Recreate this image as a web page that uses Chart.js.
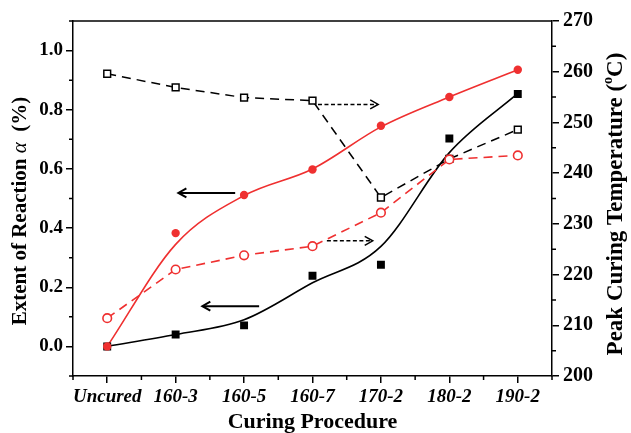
<!DOCTYPE html>
<html>
<head>
<meta charset="utf-8">
<script src="https://cdn.jsdelivr.net/npm/chart.js@4.4.1/dist/chart.umd.min.js"></script>
<style>
  html, body { margin: 0; padding: 0; background: #fff; }
  #wrap { width: 631px; height: 433px; position: relative; }
</style>
</head>
<body>
<div id="wrap"><canvas id="cure"></canvas></div>
<script>
// Curing procedures on the x axis
const categories = ['Uncured', '160-3', '160-5', '160-7', '170-2', '180-2', '190-2'];

// Extent of reaction (left axis): measured points and the fitted curves
const alphaBlack = [0, 0.040, 0.071, 0.239, 0.276, 0.703, 0.853];
const alphaBlackFit = [0, 0.040, 0.090, 0.215, 0.338, 0.655, 0.855];
const alphaRed = [0, 0.383, 0.512, 0.598, 0.746, 0.843, 0.935];
const alphaRedFit = [0, 0.345, 0.510, 0.600, 0.742, 0.843, 0.935];

// Peak curing temperature, °C (right axis)
const peakBlack = [259.6, 256.9, 254.9, 254.3, 235.2, 242.8, 248.6];
const peakRed = [211.4, 221.0, 223.8, 225.6, 232.2, 242.7, 243.5];

// Tick values
const leftTicks = [0, 0.2, 0.4, 0.6, 0.8, 1.0];
const leftMinor = [-0.1, 0.1, 0.3, 0.5, 0.7, 0.9, 1.1];
const rightTicks = [200, 210, 220, 230, 240, 250, 260, 270];
const rightMinor = [205, 215, 225, 235, 245, 255, 265];

// Arrows pointing each series to its axis: x in category index, y in left-axis units
const arrows = [
  { x0: 1.87, x1: 1.04, y: 0.519, dashed: false },
  { x0: 2.22, x1: 1.39, y: 0.136, dashed: false },
  { x0: 3.08, x1: 3.96, y: 0.818, dashed: true },
  { x0: 3.21, x1: 3.88, y: 0.357, dashed: true }
];

const RED = '#ef3030';
const SERIF = '"Liberation Serif", "Times New Roman", serif';

// minor ticks, top frame line, arrows and axis titles
const extrasPlugin = {
  id: 'extras',
  afterDraw(chart) {
    const { ctx, chartArea: a, scales } = chart;
    const x = scales.x, yL = scales.yL, yR = scales.yR;
    ctx.save();
    ctx.strokeStyle = '#000';
    ctx.lineWidth = 1.5;

    // top frame
    ctx.beginPath();
    ctx.moveTo(a.left, a.top);
    ctx.lineTo(a.right, a.top);
    ctx.stroke();

    // minor ticks
    ctx.beginPath();
    leftMinor.forEach(v => {
      const py = yL.getPixelForValue(v);
      ctx.moveTo(a.left, py); ctx.lineTo(a.left - 4, py);
    });
    rightMinor.forEach(v => {
      const py = yR.getPixelForValue(v);
      ctx.moveTo(a.right, py); ctx.lineTo(a.right + 4, py);
    });
    for (let i = -0.5; i <= categories.length - 0.5; i += 1) {
      const px = x.getPixelForValue(i);
      ctx.moveTo(px, a.bottom); ctx.lineTo(px, a.bottom + 4);
    }
    ctx.stroke();

    // arrows
    arrows.forEach(ar => {
      const px0 = x.getPixelForValue(ar.x0);
      const px1 = x.getPixelForValue(ar.x1);
      const py = yL.getPixelForValue(ar.y);
      const dir = Math.sign(px1 - px0);
      ctx.lineWidth = ar.dashed ? 1.5 : 2;
      ctx.setLineDash(ar.dashed ? [4, 2.5] : []);
      ctx.beginPath();
      ctx.moveTo(px0, py);
      ctx.lineTo(px1 - dir * 1, py);
      ctx.stroke();
      ctx.setLineDash([]);
      ctx.beginPath();
      ctx.moveTo(px1 - dir * 8, py - 4.5);
      ctx.lineTo(px1, py);
      ctx.lineTo(px1 - dir * 8, py + 4.5);
      ctx.stroke();
    });

    ctx.fillStyle = '#000';

    // x title
    ctx.font = 'bold 22px ' + SERIF;
    ctx.textAlign = 'center';
    ctx.textBaseline = 'alphabetic';
    ctx.fillText('Curing Procedure', (a.left + a.right) / 2, 428);

    // left title, drawn in pieces so alpha can be italic
    ctx.textAlign = 'left';
    const leftParts = [
      ['Extent of Reaction ', 'bold 21px ' + SERIF],
      ['\u03b1', 'italic 21px ' + SERIF],
      ['  (%)', 'bold 21px ' + SERIF]
    ];
    drawRotated(ctx, leftParts, 26, 211);

    // right title with superscript degree mark
    const rightParts = [
      ['Peak Curing Temperature (', 'bold 23px ' + SERIF],
      ['o', 'bold 14px ' + SERIF, -10],
      ['C)', 'bold 23px ' + SERIF]
    ];
    drawRotated(ctx, rightParts, 622, 204);

    ctx.restore();
  }
};

function drawRotated(ctx, parts, bx, cy) {
  let total = 0;
  parts.forEach(p => { ctx.font = p[1]; total += ctx.measureText(p[0]).width; });
  ctx.save();
  ctx.translate(bx, cy);
  ctx.rotate(-Math.PI / 2);
  let cx = -total / 2;
  parts.forEach(p => {
    ctx.font = p[1];
    ctx.fillText(p[0], cx, p[2] || 0);
    cx += ctx.measureText(p[0]).width;
  });
  ctx.restore();
}

new Chart(document.getElementById('cure'), {
  type: 'line',
  data: {
    labels: categories,
    datasets: [
      {
        data: alphaRed, yAxisID: 'yL', showLine: false, order: 0,
        pointStyle: 'circle', pointRadius: 4.2,
        pointBackgroundColor: RED, pointBorderColor: RED, pointBorderWidth: 0
      },
      {
        data: alphaBlack, yAxisID: 'yL', showLine: false, order: 1,
        pointStyle: 'rect', pointRadius: 5.6,
        pointBackgroundColor: '#000', pointBorderColor: '#000', pointBorderWidth: 0
      },
      {
        data: peakRed, yAxisID: 'yR', order: 2,
        borderColor: RED, borderWidth: 1.6, borderDash: [9, 6], tension: 0,
        pointStyle: 'circle', pointRadius: 4.3,
        pointBackgroundColor: '#fff', pointBorderColor: RED, pointBorderWidth: 1.6
      },
      {
        data: peakBlack, yAxisID: 'yR', order: 3,
        borderColor: '#000', borderWidth: 1.5, borderDash: [9, 6], tension: 0,
        pointStyle: 'rect', pointRadius: 4.8,
        pointBackgroundColor: '#fff', pointBorderColor: '#000', pointBorderWidth: 1.5
      },
      {
        data: alphaRedFit, yAxisID: 'yL', order: 4,
        borderColor: RED, borderWidth: 1.6, pointRadius: 0,
        cubicInterpolationMode: 'monotone'
      },
      {
        data: alphaBlackFit, yAxisID: 'yL', order: 5,
        borderColor: '#000', borderWidth: 1.6, pointRadius: 0,
        cubicInterpolationMode: 'monotone'
      }
    ]
  },
  options: {
    responsive: true,
    maintainAspectRatio: false,
    animation: false,
    layout: { padding: { top: 21, left: 0, right: 0, bottom: 0 } },
    plugins: { legend: { display: false }, tooltip: { enabled: false } },
    scales: {
      x: {
        type: 'category',
        offset: true,
        grid: { drawOnChartArea: false, color: '#000', lineWidth: 1.5, tickLength: 7 },
        border: { display: true, color: '#000', width: 1.5 },
        ticks: {
          color: '#000', padding: 3, maxRotation: 0, autoSkip: false,
          font: { family: SERIF, weight: 'bold', style: 'italic', size: 19 }
        },
        afterFit: s => { s.height = 57; }
      },
      yL: {
        type: 'linear', position: 'left', min: -0.1, max: 1.1,
        grid: { drawOnChartArea: false, color: '#000', lineWidth: 1.5, tickLength: 7 },
        border: { display: true, color: '#000', width: 1.5 },
        afterBuildTicks: s => { s.ticks = leftTicks.map(v => ({ value: v })); },
        ticks: {
          color: '#000', padding: 3, callback: v => v.toFixed(1),
          font: { family: SERIF, weight: 'bold', size: 19 }
        },
        afterFit: s => { s.width = 73; }
      },
      yR: {
        type: 'linear', position: 'right', min: 200, max: 270,
        grid: { drawOnChartArea: false, color: '#000', lineWidth: 1.5, tickLength: 7 },
        border: { display: true, color: '#000', width: 1.5 },
        afterBuildTicks: s => { s.ticks = rightTicks.map(v => ({ value: v })); },
        ticks: { color: '#000', padding: 4, font: { family: SERIF, weight: 'bold', size: 20 } },
        afterFit: s => { s.width = 79; }
      }
    }
  },
  plugins: [extrasPlugin]
});
</script>
</body>
</html>
